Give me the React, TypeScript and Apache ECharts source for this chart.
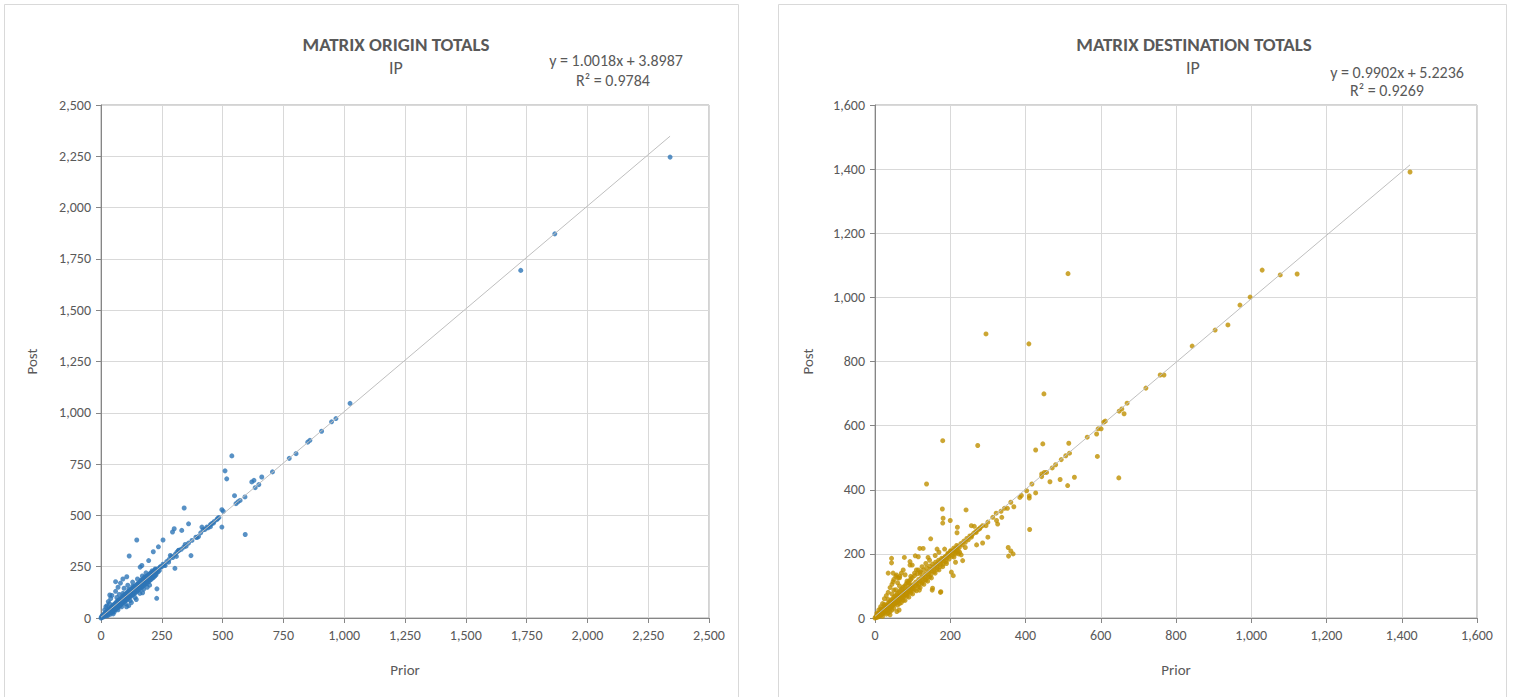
import React, { useEffect, useRef } from "react";
import * as echarts from "echarts";

// ---------- DATA ----------
const originTitle = "MATRIX ORIGIN TOTALS";
const destTitle = "MATRIX DESTINATION TOTALS";
const subTitle = "IP";
const originEquation = "y = 1.0018x + 3.8987";
const originR2 = "R² = 0.9784";
const destEquation = "y = 0.9902x + 5.2236";
const destR2 = "R² = 0.9269";
const originSlope = 1.0018;
const originIntercept = 3.8987;
const destSlope = 0.9902;
const destIntercept = 5.2236;

// Origin totals: [Prior, Post]
const originFar: number[][] = [
  [2340, 2246], [1866, 1872], [1726, 1694], [1024, 1046], [966, 972], [948, 956],
  [907, 910], [859, 866], [850, 857], [802, 801], [774, 778], [705, 712],
  [661, 687], [629, 671], [620, 663], [649, 650], [634, 635], [538, 790],
  [510, 717], [517, 678], [549, 596], [592, 590], [572, 573], [555, 557],
  [563, 566], [497, 528], [503, 520], [497, 443], [593, 407],
];
const originMid: number[][] = [
  [476, 479], [462, 462], [449, 454], [435, 443], [415, 443], [428, 432],
  [342, 536], [360, 459], [301, 435], [294, 419], [332, 427], [401, 397],
  [390, 394], [374, 378], [360, 365], [346, 358], [319, 329], [312, 321],
  [370, 304], [255, 380], [236, 347], [215, 323], [147, 380], [116, 302],
  [285, 305], [278, 272], [264, 256], [243, 248], [223, 239], [304, 242],
  [168, 256], [161, 248], [196, 280], [229, 96], [230, 142], [171, 123],
  [60, 177], [106, 201], [36, 112], [114, 60], [395, 392], [410, 415],
  [420, 430], [455, 460], [465, 470], [480, 485], [485, 490], [440, 440],
  [450, 445], [250, 250], [255, 262], [260, 258], [270, 275], [280, 285],
  [290, 300], [295, 295], [305, 310], [310, 300], [320, 330], [330, 335],
  [340, 345], [350, 350],
];
const originCloud: number[][] = [
  [0, 0], [2, 3], [5, 4], [8, 10], [10, 7], [12, 15], [15, 12], [18, 20],
  [20, 16], [22, 28], [25, 22], [27, 30], [30, 25], [32, 38], [35, 30],
  [38, 42], [40, 35], [42, 50], [45, 40], [48, 55], [50, 45], [52, 60],
  [55, 48], [58, 65], [60, 52], [62, 70], [65, 58], [68, 75], [70, 62],
  [72, 80], [75, 68], [78, 85], [80, 72], [82, 90], [85, 78], [88, 95],
  [90, 82], [92, 100], [95, 88], [98, 105], [100, 92], [102, 110], [105, 98],
  [108, 115], [110, 102], [112, 120], [115, 108], [118, 125], [120, 112],
  [122, 130], [125, 118], [128, 135], [130, 122], [132, 140], [135, 128],
  [138, 145], [140, 132], [142, 150], [145, 138], [148, 155], [150, 142],
  [152, 160], [155, 148], [158, 165], [160, 152], [162, 170], [165, 158],
  [168, 175], [170, 162], [172, 180], [175, 168], [178, 185], [180, 172],
  [182, 190], [185, 178], [188, 195], [190, 182], [192, 200], [195, 188],
  [198, 205], [200, 192], [205, 210], [210, 200], [215, 220], [220, 212],
  [225, 230], [230, 222], [235, 240], [240, 232], [245, 250],
  [20, 55], [30, 80], [40, 95], [45, 110], [60, 130], [70, 150], [80, 170],
  [90, 190], [50, 20], [70, 40], [85, 55], [100, 70], [120, 85], [140, 100],
  [160, 120], [175, 140], [190, 150], [200, 160], [55, 30], [65, 100],
  [75, 115], [95, 145], [110, 160], [130, 175], [150, 190], [170, 205],
  [185, 220], [15, 40], [25, 60], [35, 70], [105, 55], [125, 75], [145, 90],
  [150, 165], [165, 185], [180, 200], [200, 215], [210, 230], [225, 215],
  [235, 225], [130, 155], [115, 140], [90, 120], [78, 60], [68, 50], [58, 40],
  [48, 28], [38, 18], [28, 12],
];
const originDense: number[][] = [
  [3, 8], [6, 12], [9, 5], [11, 18], [13, 9], [16, 25], [19, 14], [21, 10],
  [24, 33], [26, 18], [29, 36], [31, 20], [33, 44], [36, 26], [39, 48],
  [41, 29], [44, 52], [47, 34], [49, 62], [51, 38], [54, 66], [57, 42],
  [59, 72], [61, 46], [64, 78], [66, 50], [69, 84], [71, 55], [74, 88],
  [76, 60], [79, 92], [81, 64], [84, 98], [86, 70], [89, 104], [91, 74],
  [94, 110], [96, 80], [99, 116], [101, 84], [104, 120], [106, 90],
  [109, 126], [111, 94], [114, 130], [116, 100], [119, 134], [121, 104],
  [124, 140], [126, 110], [129, 144], [131, 114], [134, 150], [136, 118],
  [139, 154], [141, 124], [144, 160], [146, 128], [149, 164], [151, 134],
  [154, 170], [156, 138], [159, 174], [161, 144], [164, 180], [166, 148],
  [169, 184], [171, 154], [174, 190], [176, 158], [179, 194], [181, 164],
  [184, 200], [186, 168], [189, 204], [191, 174], [194, 208], [196, 178],
  [199, 212], [201, 184], [204, 218], [206, 188], [209, 222], [211, 194],
  [214, 226], [216, 198], [219, 230], [221, 204], [224, 236], [226, 210],
];

// Destination totals: [Prior, Post]
const destFar: number[][] = [
  [1422, 1391], [1029, 1085], [1077, 1070], [1122, 1073], [997, 1001],
  [970, 976], [938, 914], [904, 898], [843, 848], [768, 758], [758, 758],
  [720, 717], [670, 670], [656, 652], [649, 645], [662, 637], [612, 614],
  [608, 611], [593, 590], [601, 590], [589, 574], [564, 564], [591, 504],
  [648, 437], [513, 1074], [409, 855], [295, 886], [449, 699],
];
const destMid: number[][] = [
  [515, 545], [517, 514], [507, 506], [495, 494], [480, 478], [471, 468],
  [456, 454], [450, 454], [443, 449], [443, 441], [427, 524], [446, 543],
  [530, 439], [512, 413], [492, 432], [465, 425], [417, 418], [403, 397],
  [410, 381], [410, 374], [427, 390], [411, 276], [385, 376], [389, 382],
  [369, 347], [361, 361], [352, 342], [344, 342], [335, 333], [337, 314],
  [322, 327], [323, 304], [326, 293], [313, 314], [300, 299], [295, 288],
  [286, 288], [278, 278], [269, 267], [257, 257], [300, 252], [286, 234],
  [270, 228], [242, 337], [180, 553], [273, 538], [137, 418], [179, 340],
  [181, 311], [180, 296], [200, 304], [219, 283], [218, 266], [256, 288],
  [264, 286], [354, 220], [361, 209], [367, 200], [355, 193], [201, 208],
  [194, 202], [215, 205], [222, 200], [229, 197], [233, 179], [214, 174],
  [208, 132], [203, 143], [148, 247], [165, 215], [141, 189], [119, 217],
  [128, 217], [107, 194], [115, 191], [93, 176], [99, 165], [78, 189],
  [44, 186], [44, 172], [35, 140], [48, 140], [57, 134], [66, 130], [48, 113],
  [152, 87], [174, 80], [175, 82], [153, 93], [118, 87], [50, 87], [58, 20],
  [64, 25], [40, 10], [61, 125], [93, 165],
];
const destCloud: number[][] = [
  [0, 0], [2, 2], [4, 5], [6, 4], [8, 9], [10, 8], [12, 14], [14, 12],
  [16, 18], [18, 15], [20, 22], [22, 19], [24, 27], [26, 23], [28, 31],
  [30, 26], [32, 35], [34, 30], [36, 40], [38, 34], [40, 44], [42, 38],
  [44, 48], [46, 42], [48, 52], [50, 46], [52, 56], [54, 50], [56, 60],
  [58, 54], [60, 64], [62, 58], [64, 68], [66, 62], [68, 72], [70, 66],
  [72, 76], [74, 70], [76, 80], [78, 74], [80, 84], [82, 78], [84, 88],
  [86, 82], [88, 92], [90, 86], [92, 96], [94, 90], [96, 100], [98, 94],
  [100, 104], [104, 100], [108, 112], [112, 108], [116, 120], [120, 116],
  [124, 128], [128, 124], [132, 136], [136, 132], [140, 144], [144, 140],
  [148, 152], [152, 148], [156, 160], [160, 156], [164, 168], [168, 164],
  [172, 176], [176, 172], [180, 184], [184, 180], [188, 192], [192, 188],
  [196, 200], [200, 196], [204, 208], [208, 204], [212, 214], [216, 212],
  [220, 222], [224, 220], [228, 232], [232, 228], [236, 240], [240, 236],
  [244, 248], [248, 244], [252, 256], [256, 252], [262, 264], [268, 270],
  [274, 276], [280, 282],
  [5, 15], [10, 25], [15, 35], [20, 45], [25, 60], [30, 70], [35, 80],
  [40, 95], [45, 105], [50, 120], [55, 130], [60, 110], [65, 125], [70, 140],
  [75, 150], [80, 135], [20, 5], [30, 12], [40, 20], [50, 30], [60, 40],
  [70, 48], [80, 55], [90, 65], [100, 75], [110, 85], [120, 95], [130, 105],
  [140, 115], [150, 125], [15, 28], [25, 42], [35, 58], [45, 75], [55, 88],
  [65, 100], [85, 115], [95, 130], [105, 140], [115, 150], [125, 160],
  [135, 170], [145, 180], [160, 195], [170, 205], [185, 215], [110, 150],
  [90, 110], [120, 140], [35, 15], [45, 25], [65, 45], [75, 55], [85, 68],
  [95, 78], [105, 88], [115, 98], [125, 108], [135, 118], [145, 128],
  [160, 140], [170, 150], [180, 160], [190, 170], [210, 190], [225, 205],
  [240, 220],
];
const destDense: number[][] = [
  [3, 6], [5, 2], [7, 12], [9, 4], [11, 16], [13, 7], [15, 20], [17, 10],
  [19, 26], [21, 14], [23, 30], [25, 17], [27, 36], [29, 21], [31, 40],
  [33, 24], [35, 46], [37, 28], [39, 50], [41, 32], [43, 56], [45, 36],
  [47, 60], [49, 40], [51, 66], [53, 44], [55, 70], [57, 48], [59, 76],
  [61, 52], [63, 80], [65, 56], [67, 86], [69, 60], [71, 90], [73, 64],
  [75, 96], [77, 68], [79, 100], [81, 72], [83, 106], [85, 76], [87, 110],
  [89, 80], [91, 116], [93, 84], [95, 120], [97, 88], [99, 126], [101, 92],
  [105, 132], [109, 100], [113, 138], [117, 106], [121, 144], [125, 112],
  [129, 150], [133, 120], [137, 156], [141, 128], [145, 162], [149, 136],
  [153, 168], [157, 144], [161, 174], [165, 152], [169, 180], [173, 160],
  [177, 186], [181, 168], [185, 190], [189, 176], [193, 198], [197, 184],
  [201, 210], [205, 192], [209, 218], [213, 200], [217, 226], [221, 208],
];

const originTicksMax = 2500;
const originInterval = 250;
const destTicksMax = 1600;
const destInterval = 200;

// ---------- STYLE ----------
const FONT = "Carlito, Lato, 'Liberation Sans', sans-serif";
const TEXT = "#595959";
const AXIS = "#868686";
const GRID = "#d9d9d9";
const BLUE = "#2E75B6";
const GOLD = "#BF9000";
const TREND = "#bfbfbf";

const fmt = (v: number) => v.toLocaleString("en-US");

function trend(points: number[][], slope: number, intercept: number) {
  const xs = points.map((p) => p[0]);
  const maxX = Math.max(...xs);
  return [
    [0, intercept],
    [maxX, slope * maxX + intercept],
  ];
}

function axis(gridIndex: number, max: number, interval: number, name: string, nameGap: number) {
  return {
    gridIndex,
    type: "value",
    min: 0,
    max,
    interval,
    name,
    nameLocation: "middle",
    nameGap,
    nameTextStyle: { color: TEXT, fontSize: 15, fontFamily: FONT },
    axisLine: { show: true, onZero: false, lineStyle: { color: AXIS, width: 1 } },
    axisTick: { show: true, length: 5, lineStyle: { color: AXIS } },
    axisLabel: { color: TEXT, fontSize: 14, fontFamily: FONT, margin: 10, formatter: fmt },
    splitLine: { show: true, lineStyle: { color: GRID, width: 1 } },
  };
}

export default function App() {
  const ref = useRef<HTMLDivElement>(null);

  useEffect(() => {
    if (!ref.current) return;
    const chart = echarts.init(ref.current, null, { renderer: "svg" });
    const originAll = [...originFar, ...originMid, ...originCloud, ...originDense];
    const destAll = [...destFar, ...destMid, ...destCloud, ...destDense];

    const txt = (x: number, y: number, text: string, size: number, bold = false) => ({
      type: "text",
      x,
      y,
      style: {
        text,
        fill: TEXT,
        fontSize: size,
        fontWeight: bold ? "bold" : "normal",
        fontFamily: FONT,
        align: "center",
        verticalAlign: "middle",
      },
    });

    chart.setOption({
      animation: false,
      backgroundColor: "#ffffff",
      grid: [
        { left: 101, top: 105, width: 608, height: 513, show: true, borderColor: "#a6a6a6", borderWidth: 1 },
        { left: 875, top: 105, width: 602, height: 513, show: true, borderColor: "#a6a6a6", borderWidth: 1 },
      ],
      xAxis: [
        axis(0, originTicksMax, originInterval, "Prior", 44),
        axis(1, destTicksMax, destInterval, "Prior", 44),
      ],
      yAxis: [
        axis(0, originTicksMax, originInterval, "Post", 62),
        axis(1, destTicksMax, destInterval, "Post", 60),
      ],
      series: [
        {
          type: "scatter",
          xAxisIndex: 0,
          yAxisIndex: 0,
          data: originAll,
          symbolSize: 5,
          itemStyle: { color: BLUE },
          z: 2,
        },
        {
          type: "line",
          xAxisIndex: 0,
          yAxisIndex: 0,
          data: trend(originAll, originSlope, originIntercept),
          symbol: "none",
          lineStyle: { color: TREND, width: 1 },
          z: 3,
        },
        {
          type: "scatter",
          xAxisIndex: 1,
          yAxisIndex: 1,
          data: destAll,
          symbolSize: 5,
          itemStyle: { color: GOLD },
          z: 2,
        },
        {
          type: "line",
          xAxisIndex: 1,
          yAxisIndex: 1,
          data: trend(destAll, destSlope, destIntercept),
          symbol: "none",
          lineStyle: { color: TREND, width: 1 },
          z: 3,
        },
      ],
      graphic: [
        {
          type: "rect",
          shape: { x: 4.5, y: 4.5, width: 734, height: 720 },
          style: { fill: "none", stroke: "#d9d9d9", lineWidth: 1 },
          silent: true,
        },
        {
          type: "rect",
          shape: { x: 778.5, y: 4.5, width: 728, height: 720 },
          style: { fill: "none", stroke: "#d9d9d9", lineWidth: 1 },
          silent: true,
        },
        txt(396, 44, originTitle, 19, true),
        txt(396, 68, subTitle, 18),
        txt(616, 60, originEquation, 16),
        txt(613, 80, originR2, 16),
        txt(1194, 44, destTitle, 19, true),
        txt(1193, 68, subTitle, 18),
        txt(1397, 72, destEquation, 16),
        txt(1387, 90, destR2, 16),
      ],
    });
    return () => chart.dispose();
  }, []);

  return (
    <div
      ref={ref}
      style={{ position: "absolute", left: 0, top: 0, width: 1514, height: 697, background: "#fff" }}
    />
  );
}
